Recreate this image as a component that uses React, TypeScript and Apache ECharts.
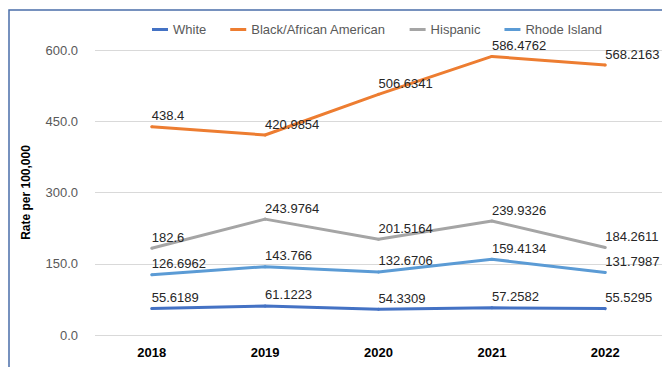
import React, { useEffect, useRef } from "react";
import * as echarts from "echarts";

const years = ["2018", "2019", "2020", "2021", "2022"];
const white = [55.6189, 61.1223, 54.3309, 57.2582, 55.5295];
const black = [438.4, 420.9854, 506.6341, 586.4762, 568.2163];
const hispanic = [182.6, 243.9764, 201.5164, 239.9326, 184.2611];
const rhodeIsland = [126.6962, 143.766, 132.6706, 159.4134, 131.7987];
const yTicks = [0, 150, 300, 450, 600];

const FONT = "'Liberation Sans', Arial, sans-serif";

export default function App() {
  const ref = useRef<HTMLDivElement>(null);
  useEffect(() => {
    if (!ref.current) return;
    const chart = echarts.init(ref.current, null, { renderer: "svg" });
    const mk = (name: string, data: number[], color: string) => ({
      name,
      type: "line",
      data,
      symbol: "circle",
      symbolSize: 3,
      showSymbol: true,
      lineStyle: { color, width: 3 },
      itemStyle: { color },
      label: {
        show: true,
        position: "top",
        align: "left",
        distance: 3,
        offset: [1, 0],
        color: "#262626",
        fontSize: 13,
        fontFamily: FONT,
        formatter: (p: any) => String(p.value),
      },
      labelLayout: { hideOverlap: false },
    });
    chart.setOption({
      animation: false,
      backgroundColor: "#ffffff",
      textStyle: { fontFamily: FONT },
      graphic: [
        {
          type: "rect",
          shape: { x: 9, y: 10, width: 700, height: 400 },
          style: { fill: "none", stroke: "#4A6EA9", lineWidth: 1.5 },
          silent: true,
        },
      ],
      legend: {
        top: 18,
        left: 147,
        itemWidth: 16,
        itemHeight: 3,
        itemGap: 24,
        icon: "rect",
        textStyle: { color: "#595959", fontSize: 13, fontFamily: FONT },
        data: ["White", "Black/African American", "Hispanic", "Rhode Island"],
      },
      grid: { left: 95, right: -4, top: 50, bottom: 32, containLabel: false },
      xAxis: {
        type: "category",
        data: years,
        boundaryGap: true,
        axisLine: { show: false },
        axisTick: { show: false },
        axisLabel: {
          color: "#000000",
          fontWeight: "bold",
          fontSize: 13,
          fontFamily: FONT,
          margin: 11,
        },
      },
      yAxis: {
        type: "value",
        min: yTicks[0],
        max: yTicks[yTicks.length - 1],
        interval: 150,
        name: "Rate per 100,000",
        nameLocation: "middle",
        nameGap: 63,
        nameTextStyle: { fontWeight: "bold", fontSize: 12, color: "#000000", fontFamily: FONT },
        axisLine: { show: false },
        axisTick: { show: false },
        splitLine: { lineStyle: { color: "#d9d9d9", width: 1 } },
        axisLabel: {
          color: "#595959",
          fontSize: 13,
          fontFamily: FONT,
          margin: 17,
          formatter: (v: number) => v.toFixed(1),
        },
      },
      series: [
        mk("White", white, "#4472C4"),
        mk("Black/African American", black, "#ED7D31"),
        mk("Hispanic", hispanic, "#A5A5A5"),
        mk("Rhode Island", rhodeIsland, "#5B9BD5"),
      ],
    });
    return () => chart.dispose();
  }, []);
  return (
    <div
      ref={ref}
      style={{ position: "absolute", left: 0, top: 0, width: 662, height: 367 }}
    />
  );
}
